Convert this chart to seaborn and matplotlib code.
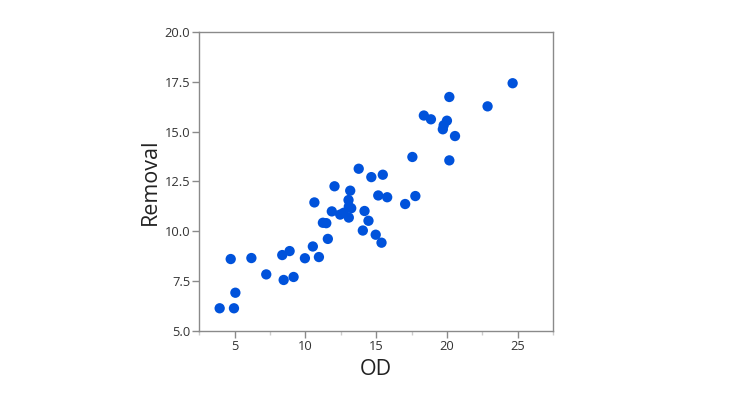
import matplotlib
matplotlib.use("Agg")
import matplotlib.pyplot as plt
import seaborn as sns
import pandas as pd
from matplotlib.ticker import MultipleLocator

od = [3.94, 4.95, 5.05, 4.72, 6.18, 7.23, 8.36, 8.46, 8.88, 9.16,
      9.96, 10.52, 10.95, 10.63, 11.23, 11.47, 11.58, 11.86, 12.05, 12.45,
      12.70, 13.04, 13.16, 13.06, 13.23, 13.06, 13.76, 14.17, 14.05, 14.45,
      14.65, 15.46, 15.14, 15.77, 17.04, 17.76, 14.96, 15.37, 17.55, 20.16,
      20.16, 18.36, 18.86, 19.99, 19.76, 19.70, 20.56, 22.86, 24.63]
removal = [6.14, 6.14, 6.92, 8.61, 8.66, 7.84, 8.81, 7.56, 9.01, 7.71,
           8.65, 9.24, 8.71, 11.45, 10.43, 10.41, 9.62, 11.00, 12.26, 10.84,
           10.93, 11.57, 12.04, 10.69, 11.16, 11.24, 13.14, 11.02, 10.04, 10.53,
           12.72, 12.84, 11.80, 11.71, 11.37, 11.77, 9.83, 9.43, 13.73, 13.56,
           16.74, 15.81, 15.62, 15.55, 15.32, 15.12, 14.78, 16.27, 17.43]

df = pd.DataFrame({"OD": od, "Removal": removal})

sns.set_theme(style="white")
plt.rcParams['font.family'] = ['Open Sans', 'DejaVu Sans']

fig = plt.figure(figsize=(7.5, 4), dpi=100)
ax = fig.add_axes([0.2657, 0.1725, 0.472, 0.7475])
sns.scatterplot(data=df, x="OD", y="Removal", ax=ax, s=55, color="#0052DB",
                edgecolor="none", linewidth=0)

ax.set_xlim(2.5, 27.5)
ax.set_ylim(5, 20)
ax.xaxis.set_major_locator(MultipleLocator(5))
ax.xaxis.set_minor_locator(MultipleLocator(2.5))
ax.yaxis.set_major_locator(MultipleLocator(2.5))
ax.set_yticklabels([f"{v:.1f}" for v in ax.get_yticks()])

for s in ax.spines.values():
    s.set_color("#8a8a8a")
    s.set_linewidth(1.0)
ax.tick_params(axis="both", which="major", direction="out", length=5, width=1,
               color="#8a8a8a", labelsize=9.3, labelcolor="#333333", pad=1.5,
               bottom=True, left=True)
ax.tick_params(axis="x", which="minor", direction="out", length=3, width=1,
               color="#cccccc", bottom=True)
ax.set_xlabel("OD", fontsize=15.5, color="#222222", labelpad=4)
ax.set_ylabel("Removal", fontsize=15.5, color="#222222", labelpad=3)

fig.savefig("out.png", dpi=100)
